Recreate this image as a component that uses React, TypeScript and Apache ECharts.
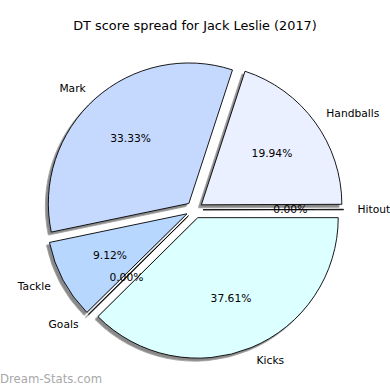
import React, { useEffect, useRef } from "react";
import * as echarts from "echarts";

const categories = ["Hitout", "Handballs", "Mark", "Tackle", "Goals", "Kicks"];
const values = [0, 19.94, 33.33, 9.12, 0, 37.61];
const sliceColors = ["#f0f4ff", "#eaf0ff", "#c5d9ff", "#b8d7ff", "#b0d0ff", "#dcffff"];
const titleText = "DT score spread for Jack Leslie (2017)";
const watermarkText = "Dream-Stats.com";

const FONT = "DejaVu Sans";
const CX = 194.5;
const CY = 209.8;
const R = 140.5;
const EXPLODE = 8.5;

export default function App() {
  const ref = useRef<HTMLDivElement>(null);
  useEffect(() => {
    document.body.style.margin = "0";
    const chart = echarts.init(ref.current!, null, { renderer: "svg" });
    const data = categories.map((name, i) => ({
      name,
      value: values[i],
      selected: true,
      itemStyle: { color: sliceColors[i] },
    }));
    const pctData = categories.map((name, i) => ({
      name,
      value: values[i],
      selected: true,
    }));
    chart.setOption({
      animation: false,
      backgroundColor: "#ffffff",
      title: {
        text: titleText,
        left: "center",
        top: 14,
        textStyle: { fontFamily: FONT, fontSize: 12.85, fontWeight: "normal", color: "#000" },
      },
      graphic: [
        {
          type: "text",
          left: 0,
          top: 373,
          style: {
            text: watermarkText,
            font: `11.7px "${FONT}"`,
            fill: "#a8a8a8",
          },
        },
      ],
      series: [
        {
          type: "pie",
          center: [CX, CY],
          radius: R,
          startAngle: 0,
          clockwise: false,
          minAngle: 0.2,
          selectedMode: "multiple",
          selectedOffset: EXPLODE,
          avoidLabelOverlap: false,
          silent: true,
          emphasis: { disabled: true },
          itemStyle: {
            borderColor: "#000",
            borderWidth: 0.9,
            shadowBlur: 0,
            shadowOffsetX: -2.8,
            shadowOffsetY: 2.8,
            shadowColor: "rgba(40,40,40,0.55)",
          },
          label: {
            show: true,
            position: "outside",
            formatter: "{b}",
            fontFamily: FONT,
            fontSize: 10.7,
            color: "#000",
            distanceToLabelLine: 0,
          },
          labelLine: { show: false, length: 0.1 * R, length2: 0 },
          data,
        },
        {
          type: "pie",
          center: [CX, CY],
          radius: [0.4 * R, 0.8 * R],
          startAngle: 0,
          clockwise: false,
          minAngle: 0.2,
          selectedMode: "multiple",
          selectedOffset: EXPLODE,
          avoidLabelOverlap: false,
          silent: true,
          z: 5,
          emphasis: { disabled: true },
          itemStyle: { color: "rgba(0,0,0,0)", borderWidth: 0 },
          label: {
            show: true,
            position: "inside",
            formatter: (p: any) => `${Number(p.value).toFixed(2)}%`,
            fontFamily: FONT,
            fontSize: 10.7,
            color: "#000",
          },
          labelLine: { show: false },
          data: pctData,
        },
      ],
    });
    return () => chart.dispose();
  }, []);
  return <div ref={ref} style={{ width: 390, height: 390 }} />;
}
